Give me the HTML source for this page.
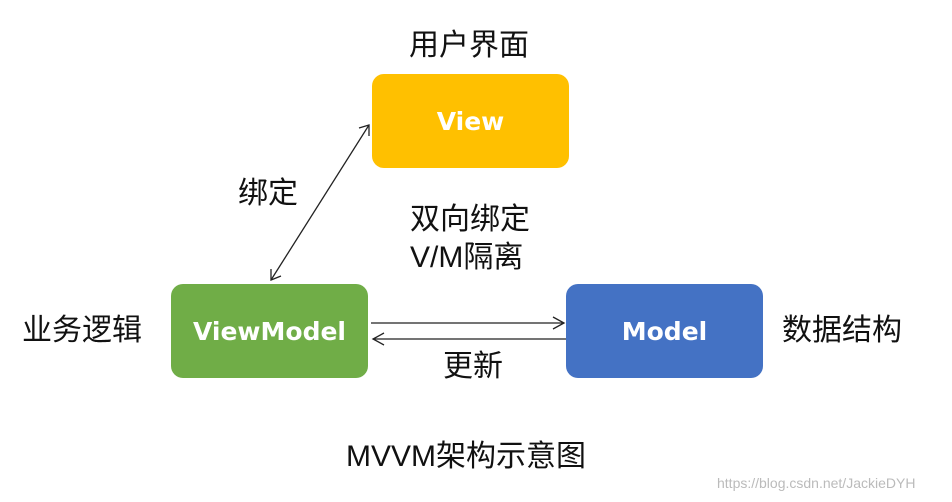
<!DOCTYPE html>
<html><head><meta charset="utf-8"><style>
body{margin:0;width:952px;height:502px;background:#fff;overflow:hidden;position:relative;font-family:"Liberation Sans","Noto Sans CJK SC",sans-serif;}
.b{position:absolute;width:197px;height:94px;border-radius:12px;color:#fff;font-weight:bold;font-size:25px;display:flex;align-items:center;justify-content:center;font-family:"DejaVu Sans","Liberation Sans",sans-serif;}
.t{position:absolute;font-size:30px;color:#111;white-space:nowrap;line-height:1;}
</style></head><body>
<div class="b" style="left:372px;top:74px;background:#ffc000;">View</div>
<div class="b" style="left:171px;top:284px;background:#70ad47;">ViewModel</div>
<div class="b" style="left:566px;top:284px;background:#4472c4;">Model</div>
<svg width="952" height="502" style="position:absolute;left:0;top:0">
<g stroke="#222" stroke-width="1.3" fill="none">
<line x1="271" y1="280" x2="369" y2="125"/>
<polyline points="359,128 369,125 369,136"/>
<polyline points="271,269 271,280 281,276"/>
<line x1="371" y1="323" x2="564" y2="323"/>
<polyline points="553,317 564,323 553,329"/>
<line x1="373" y1="339" x2="566" y2="339"/>
<polyline points="384,333 373,339 384,345"/>
</g></svg>
<div class="t" style="left:409px;top:31px;">用户界面</div>
<div class="t" style="left:238px;top:179px;">绑定</div>
<div class="t" style="left:410px;top:205px;">双向绑定</div>
<div class="t" style="left:410px;top:243px;">V/M隔离</div>
<div class="t" style="left:22px;top:316px;">业务逻辑</div>
<div class="t" style="left:782px;top:316px;">数据结构</div>
<div class="t" style="left:443px;top:352px;">更新</div>
<div class="t" style="left:346px;top:442px;">MVVM架构示意图</div>
<div class="t" style="left:717px;top:476px;font-size:14px;color:#bbb;">https://blog.csdn.net/JackieDYH</div>
</body></html>
